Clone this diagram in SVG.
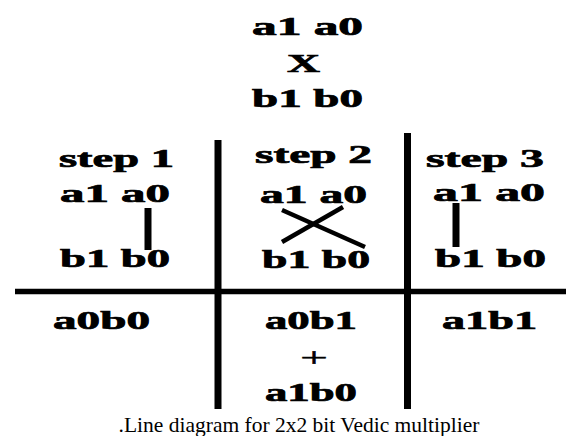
<svg xmlns="http://www.w3.org/2000/svg" width="566" height="436" viewBox="0 0 566 436">
  <style>
    .t { font-family: "Liberation Serif", "DejaVu Serif", serif; font-weight: bold; font-size: 25px; fill: #000; stroke: #000; stroke-width: 0.7; }
    .p { font-family: "Liberation Serif", "DejaVu Serif", serif; font-weight: normal; font-size: 27px; fill: #000; stroke: #000; stroke-width: 0.4; }
    .cap { font-family: "Liberation Serif", "Times New Roman", serif; font-size: 21.5px; fill: #000; }
    .thick { stroke: #000; stroke-width: 7; fill: none; }
    .grid { stroke: #000; fill: none; }
    .cross { stroke: #000; stroke-width: 4.5; fill: none; }
  </style>
  <rect width="566" height="436" fill="#fff"/>

  <g id="title">
    <text class="t" x="252" y="35" textLength="111" lengthAdjust="spacingAndGlyphs">a1 a0</text>
    <text class="t" x="287" y="72" font-size="31" textLength="33" lengthAdjust="spacingAndGlyphs">X</text>
    <text class="t" x="252" y="107" textLength="111" lengthAdjust="spacingAndGlyphs">b1 b0</text>
  </g>

  <g id="connectors">
    <line class="grid" x1="15" y1="291.5" x2="566" y2="291.5" stroke-width="5.5"/>
    <line class="grid" x1="218" y1="140" x2="218" y2="409" stroke-width="7"/>
    <line class="grid" x1="407.5" y1="133" x2="407.5" y2="409" stroke-width="7"/>
    <line class="thick" x1="148" y1="208" x2="148" y2="250"/>
    <line class="thick" x1="456" y1="203" x2="456" y2="247"/>
    <line class="cross" x1="282" y1="210" x2="365" y2="247"/>
    <line class="cross" x1="343" y1="207" x2="282" y2="242"/>
  </g>

  <g id="step1">
    <text class="t" x="59" y="167" textLength="115" lengthAdjust="spacingAndGlyphs">step 1</text>
    <text class="t" x="60" y="202" textLength="110" lengthAdjust="spacingAndGlyphs">a1 a0</text>
    <text class="t" x="60" y="267" textLength="110" lengthAdjust="spacingAndGlyphs">b1 b0</text>
  </g>

  <g id="step2">
    <text class="t" x="255" y="163" textLength="117" lengthAdjust="spacingAndGlyphs">step 2</text>
    <text class="t" x="260" y="203" textLength="107" lengthAdjust="spacingAndGlyphs">a1 a0</text>
    <text class="t" x="262" y="268" textLength="108" lengthAdjust="spacingAndGlyphs">b1 b0</text>
  </g>

  <g id="step3">
    <text class="t" x="426" y="167" textLength="118" lengthAdjust="spacingAndGlyphs">step 3</text>
    <text class="t" x="433" y="201" textLength="112" lengthAdjust="spacingAndGlyphs">a1 a0</text>
    <text class="t" x="435" y="267" textLength="111" lengthAdjust="spacingAndGlyphs">b1 b0</text>
  </g>

  <g id="result1">
    <text class="t" x="53" y="329" textLength="97" lengthAdjust="spacingAndGlyphs">a0b0</text>
  </g>

  <g id="result2">
    <text class="t" x="265" y="329" textLength="92" lengthAdjust="spacingAndGlyphs">a0b1</text>
    <text class="p" x="300" y="367" textLength="28" lengthAdjust="spacingAndGlyphs">+</text>
    <text class="t" x="265" y="401" textLength="92" lengthAdjust="spacingAndGlyphs">a1b0</text>
  </g>

  <g id="result3">
    <text class="t" x="442" y="329" textLength="95" lengthAdjust="spacingAndGlyphs">a1b1</text>
  </g>

  <g id="caption">
    <text class="cap" x="299" y="432" text-anchor="middle">.Line diagram for 2x2 bit Vedic multiplier</text>
  </g>
</svg>
